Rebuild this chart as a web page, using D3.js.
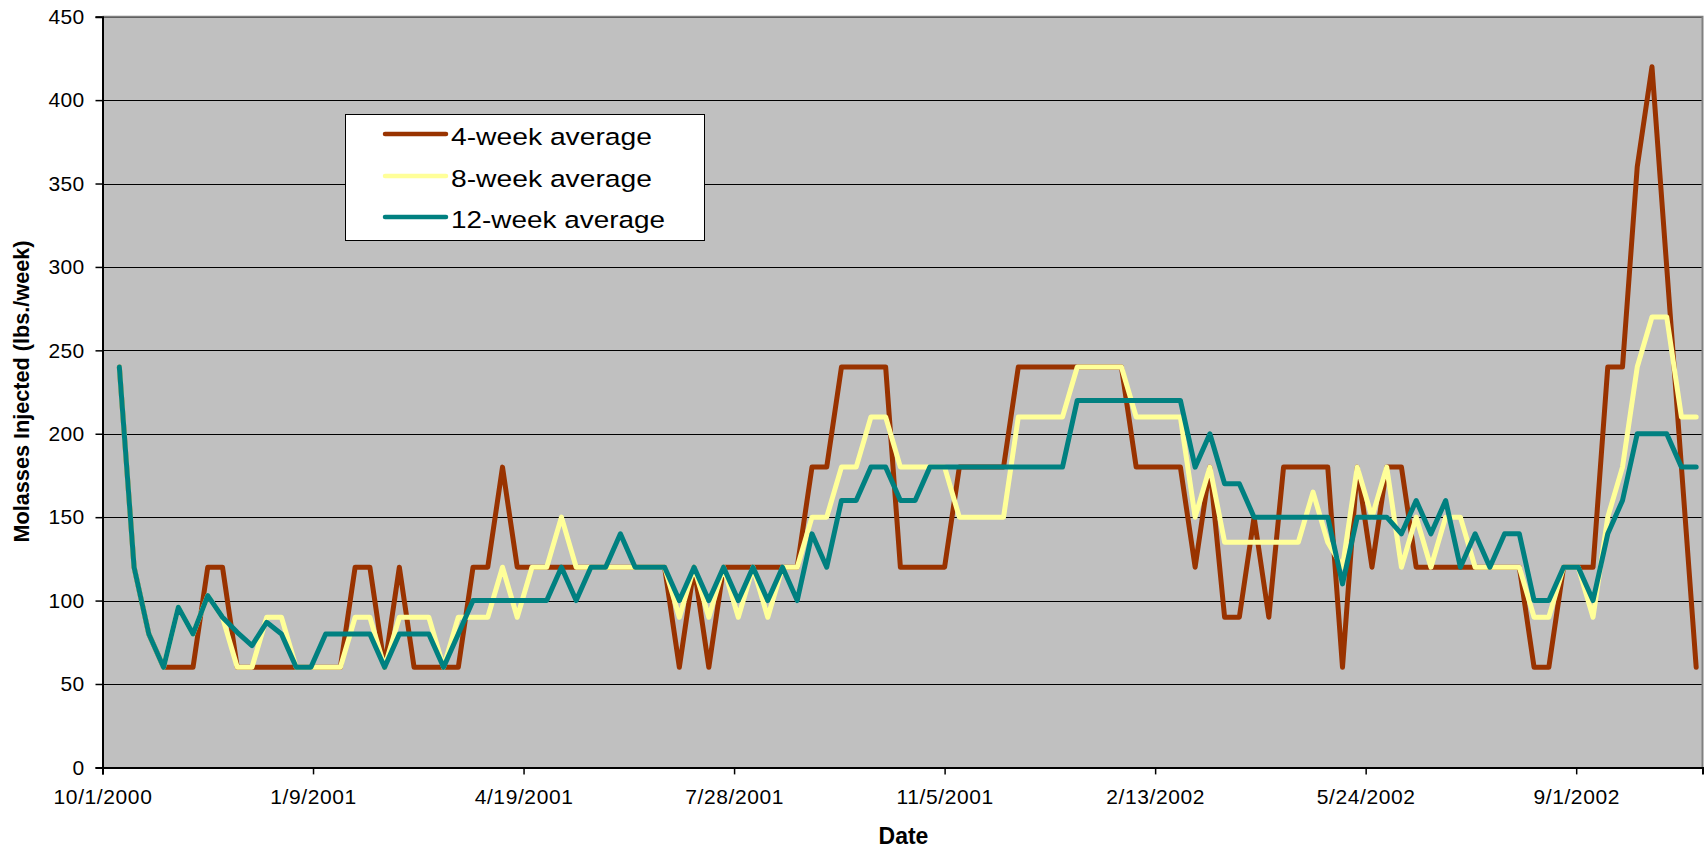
<!DOCTYPE html>
<html>
<head>
<meta charset="utf-8">
<script src="https://cdn.jsdelivr.net/npm/d3@7"></script>
<style>
  html, body { margin: 0; padding: 0; background: #fff; }
  svg { display: block; font-family: "Liberation Sans", Arial, sans-serif; }
</style>
</head>
<body>
<svg id="chart" width="1704" height="850"></svg>
<script>
// ---- data ----
const firstWeek = "2000-10-09";
const seriesNames = ["4-week average", "8-week average", "12-week average"];
const seriesColors = ["#993300", "#FFFF99", "#008080"];

const avg4 = [
  240,120,80,60, 60,60,120,120,
  60,60,60,60,60,60,60,60, 120,120,
  60,120,60,60,60,60, 120,120,180,120,
  120,120,120,120,120,120,120,120,120,120,
  60,120,60,120, 120,120,120,120,120,
  180,180, 240,240,240,240, 120,120,120,120,
  180,180,180,180, 240,240,240,240,240,240,240,240,
  180,180,180,180, 120,180,90,90,150,90,
  180,180,180,180, 60,180,120,180,180,
  120,120,120,120,120,120,120,120, 60,60,
  120,120,120, 240,240,360,420,300,180,60
];
const avg8 = [
  240,120,80,60,96,80,103,90,
  60,60,90,90,60,60,60,60,90,90,
  60,90,90,90,60,90,90,90,
  120,90,120,120,150,120,
  120,120,120,120,120,120,
  90,120,90,120,90,120,90,120,120,
  150,150,180,180,210,210,
  180,180,180,180, 150,150,150,150,
  210,210,210,210, 240,240,240,240,
  210,210,210,210, 150,180,
  135,135,135,135,135,135, 165,135,120,
  180,150,180,120,150,120,150,150,
  120,120,120,120, 90,90,120,120,90,
  150,180,240,270,270,210,210
];
const avg12 = [
  240,120,80,60,96,80,103,90,
  81,73,87,80,60,60,80,80,80,80,
  60,80,80,80,60,80,
  100,100,100,100,100,100,
  120,100,120,120,140,120,120,120,
  100,120,100,120,100,120,100,120,100,
  140,120,160,160,180,180,
  160,160,
  180,180,180,180,180,180,180,180,180,180,
  220,220,220,220,220,220,220,220,
  180,200,170,170,
  150,150,150,150,150,150,
  110,150,150,150,140,160,140,160,120,
  140,120,140,140,100,100,120,120,100,
  140,160,200,200,200,180,180
];
const xTickLabels = ["10/1/2000","1/9/2001","4/19/2001","7/28/2001","11/5/2001","2/13/2002","5/24/2002","9/1/2002"];
const yTicks = [0,50,100,150,200,250,300,350,400,450];
const xDomain = ["10/1/2000", "10/31/2002"];

// ---- setup ----
const parseMDY = d3.timeParse("%m/%d/%Y");
const start = d3.timeParse("%Y-%m-%d")(firstWeek);
const dates = avg4.map((_, i) => d3.timeDay.offset(start, 7 * i));
const allSeries = [avg4, avg8, avg12];

const L = 102.5, R = 1702.5, T = 16.7, B = 767.4;
const svg = d3.select("#chart");
const x = d3.scaleTime().domain(xDomain.map(parseMDY)).range([L, R]);
const y = d3.scaleLinear().domain([0, 450]).range([B, T]);

// plot background
svg.append("rect").attr("x", L).attr("y", T).attr("width", R - L).attr("height", B - T)
  .attr("fill", "#C0C0C0");

// gridlines
svg.append("g").selectAll("line").data(yTicks.filter(v => v > 0)).join("line")
  .attr("x1", L).attr("x2", R)
  .attr("y1", d => Math.round(y(d)) + 0.5).attr("y2", d => Math.round(y(d)) + 0.5)
  .attr("stroke", "#000").attr("stroke-width", 1);

// plot border top/right
svg.append("path")
  .attr("d", `M${L},${T}H${R}V${B}`)
  .attr("fill", "none").attr("stroke", "#808080").attr("stroke-width", 2);

// lines
const line = d3.line().x((d, i) => x(dates[i])).y(d => y(d));
allSeries.forEach((s, k) => {
  svg.append("path").datum(s)
    .attr("d", line)
    .attr("fill", "none")
    .attr("stroke", seriesColors[k])
    .attr("stroke-width", 5)
    .attr("stroke-linejoin", "round")
    .attr("stroke-linecap", "round");
});

// axes
const yAxis = d3.axisLeft(y).tickValues(yTicks).tickSize(7).tickPadding(11);
const gy = svg.append("g").attr("transform", `translate(${L},0)`).call(yAxis);
gy.select(".domain").attr("stroke", "#000").attr("stroke-width", 2);
gy.selectAll(".tick line").attr("stroke", "#000").attr("stroke-width", 1.5);
gy.selectAll(".tick text").attr("font-size", 21).attr("fill", "#000")
  .attr("letter-spacing", 0.3)
  .attr("font-family", "Liberation Sans, Arial, sans-serif");

const xAxis = d3.axisBottom(x).tickValues(xTickLabels.map(parseMDY))
  .tickFormat((d, i) => xTickLabels[i]).tickSize(7).tickPadding(15);
const gx = svg.append("g").attr("transform", `translate(0,${B})`).call(xAxis);
gx.select(".domain").attr("stroke", "#000").attr("stroke-width", 2);
gx.selectAll(".tick line").attr("stroke", "#000").attr("stroke-width", 1.5);
gx.selectAll(".tick text").attr("font-size", 21).attr("fill", "#000")
  .attr("letter-spacing", 0.6)
  .attr("font-family", "Liberation Sans, Arial, sans-serif");

// axis titles
svg.append("text")
  .attr("transform", "translate(29,391.5) rotate(-90)")
  .attr("text-anchor", "middle")
  .attr("font-size", 22).attr("font-weight", "bold")
  .attr("textLength", 302).attr("lengthAdjust", "spacingAndGlyphs")
  .text("Molasses Injected (lbs./week)");
svg.append("text")
  .attr("x", 903.5).attr("y", 844)
  .attr("text-anchor", "middle")
  .attr("font-size", 23).attr("font-weight", "bold")
  .text("Date");

// legend
const lg = svg.append("g");
lg.append("rect").attr("x", 345.5).attr("y", 114.5).attr("width", 359).attr("height", 126)
  .attr("fill", "#fff").attr("stroke", "#000").attr("stroke-width", 1);
const rowsY = [134, 176, 217];
const textLens = [201, 201, 214];
seriesNames.forEach((name, k) => {
  lg.append("line").attr("x1", 385).attr("x2", 446)
    .attr("y1", rowsY[k]).attr("y2", rowsY[k])
    .attr("stroke", seriesColors[k]).attr("stroke-width", 4.5).attr("stroke-linecap", "round");
  lg.append("text").attr("x", 451).attr("y", rowsY[k] + 11)
    .attr("font-size", 24.5)
    .attr("textLength", textLens[k]).attr("lengthAdjust", "spacingAndGlyphs")
    .text(name);
});
</script>
</body>
</html>
